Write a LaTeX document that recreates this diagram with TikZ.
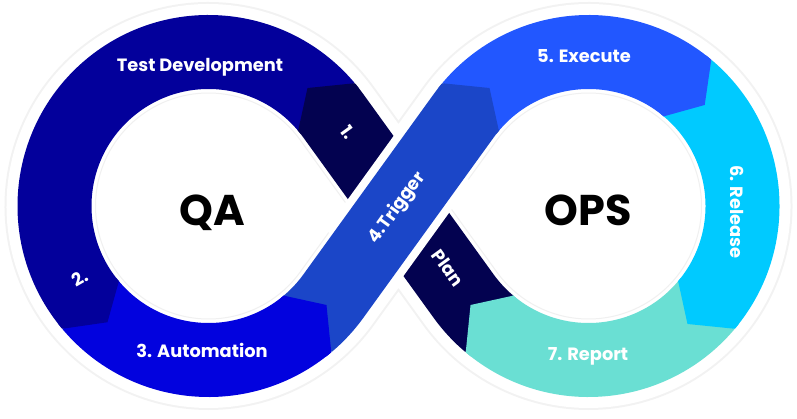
\documentclass[tikz,border=0pt]{standalone}
\usepackage{fontspec}
\setmainfont{Poppins}
\usetikzlibrary{calc}

\definecolor{navy}{RGB}{3,2,80}
\definecolor{deepblue}{RGB}{3,0,155}
\definecolor{autoblue}{RGB}{2,2,222}
\definecolor{trigblue}{RGB}{27,70,200}
\definecolor{execblue}{RGB}{34,87,255}
\definecolor{relcyan}{RGB}{0,202,255}
\definecolor{repteal}{RGB}{106,223,211}

\tikzset{
  band/.style={line width=74pt},
  lbl/.style={text=white, inner sep=0pt, font=\bfseries\fontsize{17.8}{19}\selectfont},
  hub/.style={text=black, inner sep=0pt, font=\bfseries\fontsize{43}{46}\selectfont},
}

\begin{document}
\begin{tikzpicture}[x=1pt,y=1pt]
    \def\rmid{154pt}
    \def\rout{191pt}
    \def\rin{117pt}
    \def\tang{35.85}
    \useasboundingbox (0,0) rectangle (797,418);
    \coordinate (qa) at (208.5,212);
    \coordinate (ops) at (588.5,212);
    \coordinate (lu) at ([shift={(\tang:\rmid)}]qa);
    \coordinate (ll) at ([shift={(-\tang:\rmid)}]qa);
    \coordinate (ru) at ([shift={(180-\tang:\rmid)}]ops);
    \coordinate (rl) at ([shift={(180+\tang:\rmid)}]ops);

    % white rim round the loop
    \draw[white, line width=96pt, preaction={draw, gray!10, line width=100pt}]
    (lu) arc[start angle=\tang, end angle=360-\tang, radius=\rmid] -- (ru)
    arc[start angle=180-\tang, end angle=-180+\tang, radius=\rmid] -- cycle;
    \draw[gray!12, line width=1pt, fill=white] ([shift={(\tang:113pt)}]qa)
    arc[start angle=\tang, end angle=360-\tang, radius=113pt] -- ([xshift=139.4]qa) -- cycle;
    \draw[gray!12, line width=1pt, fill=white] ([shift={(180-\tang:113pt)}]ops)
    arc[start angle=180-\tang, end angle=-180+\tang, radius=113pt] -- ([xshift=-139.4]ops) -- cycle;

    % segments
    \draw[band, navy] ([shift={(-130:\rmid)}]ops) arc[start angle=-130, end angle=-180+\tang, radius=\rmid]
    -- (lu) arc[start angle=\tang, end angle=40, radius=\rmid];
    \draw[band, deepblue] ([shift={(40:\rmid)}]qa) arc[start angle=40, end angle=220, radius=\rmid];
    \draw[band, autoblue] ([shift={(220:\rmid)}]qa) arc[start angle=220, end angle=310, radius=\rmid];
    \draw[band, execblue] ([shift={(140:\rmid)}]ops) arc[start angle=140, end angle=50, radius=\rmid];
    \draw[band, relcyan] ([shift={(50:\rmid)}]ops) arc[start angle=50, end angle=-40, radius=\rmid];
    \draw[band, repteal] ([shift={(-40:\rmid)}]ops) arc[start angle=-40, end angle=-130, radius=\rmid];
    \draw[white, line width=90pt] ($(ll)!0.22!(ru)$) -- ($(ll)!0.78!(ru)$);
    \draw[band, trigblue] ([shift={(310:\rmid)}]qa) arc[start angle=310, end angle=360-\tang, radius=\rmid]
    -- (ru) arc[start angle=180-\tang, end angle=140, radius=\rmid];

    % arrow heads (\d steps back over the own band)
    \foreach \c/\a/\b/\d/\col in {qa/40/50/38/navy, qa/220/229/218/deepblue, qa/310/320/308/autoblue,
        ops/140/130/142/trigblue, ops/50/41/52/execblue, ops/-40/-50/-38/relcyan, ops/-130/-140/-128/repteal}
    \fill[\col] ([shift={(\d:\rout)}]\c) -- ([shift={(\a:\rout)}]\c) -- ([shift={(\b:\rmid)}]\c)
    -- ([shift={(\a:\rin)}]\c) -- ([shift={(\d:\rin)}]\c) -- cycle;

    \node[lbl, anchor=base] (td) at (200,346) {Test Development};
    \node[lbl, rotate=-54] (one) at (348,286) {1.};
    \node[lbl, rotate=30] (two) at (80,140) {2.};
    \node[lbl, anchor=base] (auto) at (202,61) {3. Automation};
    \node[lbl, rotate=54.15] (trig) at (397.5,210) {4.Trigger};
    \node[lbl, anchor=base] (exec) at (584,355) {5. Execute};
    \node[lbl, rotate=-90] (rel) at (737,206) {6. Release};
    \node[lbl, anchor=base] (rep) at (588,58) {7. Report};
    \node[lbl, rotate=-54] (plan) at (448,150) {Plan};
    \node[hub, anchor=base] (qatxt) at (212.5,193) {QA};
    \node[hub, anchor=base] (opstxt) at (588,193) {OPS};
\end{tikzpicture}
\end{document}
